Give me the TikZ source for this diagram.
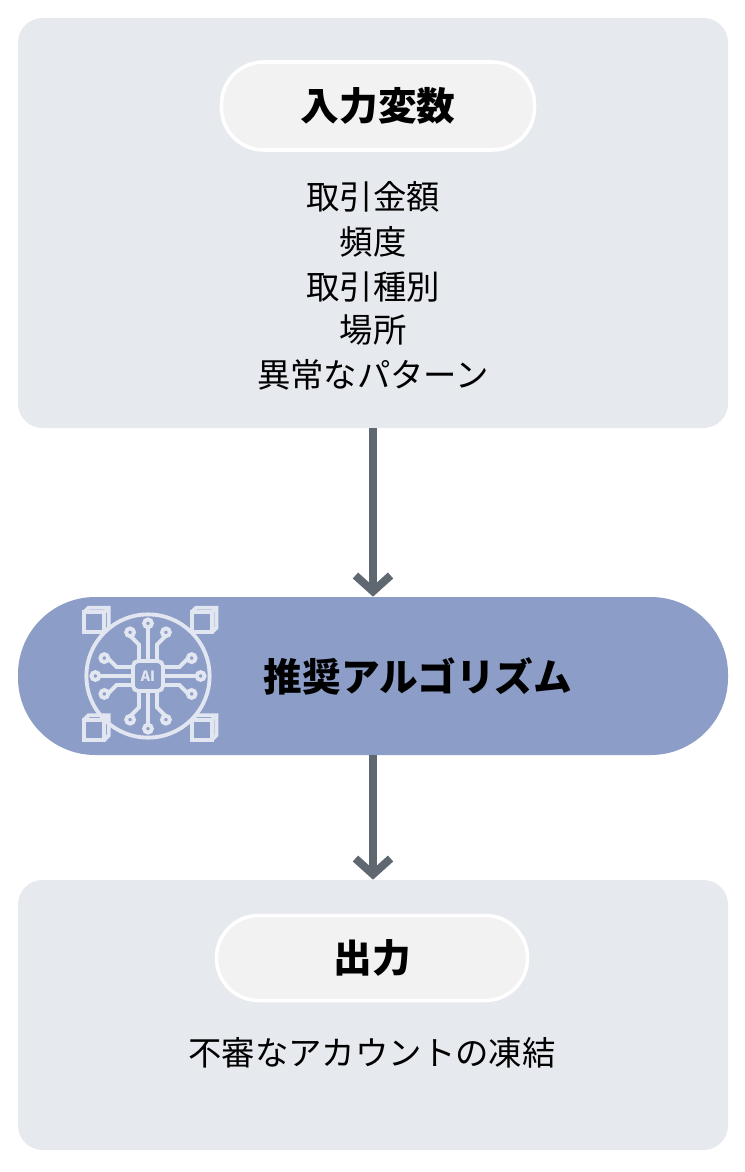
\documentclass[tikz,border=0pt]{standalone}
\usepackage{fontspec}
\setmainfont{Noto Sans CJK JP}
\usetikzlibrary{arrows.meta, positioning}
\definecolor{panelgray}{RGB}{230, 233, 238}
\definecolor{pillwhite}{RGB}{242, 242, 242}
\definecolor{algoblue}{RGB}{140, 158, 200}
\definecolor{arrowgray}{RGB}{95, 103, 112}
\definecolor{iconwhite}{RGB}{225, 230, 240}
\tikzset{
  panel/.style={fill=panelgray, draw=none, rounded corners=14pt},
  title/.style={draw=white, line width=2pt, fill=pillwhite, rounded corners=24pt, font=\fontsize{22}{26}\selectfont\bfseries, inner sep=0pt},
  item/.style={font=\fontsize{19}{22}\selectfont, inner sep=0pt},
  flow/.style={draw=arrowgray, line width=4.5pt, -{Straight Barb[length=9pt, width=20pt, line width=4.5pt]}},
  wire/.style={draw=iconwhite, line width=2.2pt},
  pin/.style={draw=iconwhite, line width=2.2pt, fill=algoblue}
}
\begin{document}
\begin{tikzpicture}[x=0.02cm, y=-0.02cm]
  \useasboundingbox[fill=white] (0,0) rectangle (744,1172);

  % input panel
  \node[panel, minimum width=710*0.02cm, minimum height=410*0.02cm] (inbox) at (373,223) {};
  \node[title, minimum width=313*0.02cm, minimum height=88*0.02cm] (intitle) at (378,106) {入力変数};
  \node[item] (v1) at (373,197) {取引金額};
  \node[item] (v2) at (373,242) {頻度};
  \node[item] (v3) at (373,287) {取引種別};
  \node[item] (v4) at (373,330) {場所};
  \node[item] (v5) at (373,375) {異常なパターン};

  % algorithm
  \node[fill=algoblue, rounded corners=44pt, minimum width=710*0.02cm, minimum height=158*0.02cm] (algo) at (373,676) {};
  \node[font=\fontsize{22}{26}\selectfont\bfseries, inner sep=0pt] (algotext) at (418,676) {推奨アルゴリズム};

  % icon
  \begin{scope}[shift={(148,676)}, scale=1.12]
    \draw[wire] (0,0) circle (55);
    \foreach \sx/\sy in {-1/-1, 1/-1, -1/1, 1/1}{
      \draw[pin] (\sx*48-9,\sy*48-9) rectangle (\sx*48+9,\sy*48+9);
      \draw[wire] (\sx*48-9,\sy*48-9) -- (\sx*48-5,\sy*48-13) -- (\sx*48+13,\sy*48-13) -- (\sx*48+13,\sy*48+5) -- (\sx*48+9,\sy*48+9);
      \draw[wire] (\sx*48+9,\sy*48-9) -- (\sx*48+13,\sy*48-13);
    }
    \foreach \a in {-8,8}{
      \draw[wire] (\a,-14) -- (\a,-28) -- (\a*2,-36);
      \draw[pin] (\a*2,-39) circle (3.5);
      \draw[wire] (\a,14) -- (\a,28) -- (\a*2,36);
      \draw[pin] (\a*2,39) circle (3.5);
      \draw[wire] (-14,\a) -- (-28,\a) -- (-36,\a*2);
      \draw[pin] (-39,\a*2) circle (3.5);
      \draw[wire] (14,\a) -- (28,\a) -- (36,\a*2);
      \draw[pin] (39,\a*2) circle (3.5);
    }
    \draw[wire] (0,-14) -- (0,-44); \draw[pin] (0,-47) circle (3.5);
    \draw[wire] (0,14) -- (0,44); \draw[pin] (0,47) circle (3.5);
    \draw[wire] (-14,0) -- (-44,0); \draw[pin] (-47,0) circle (3.5);
    \draw[wire] (14,0) -- (44,0); \draw[pin] (47,0) circle (3.5);
    \node[pin, rounded corners=3pt, minimum size=30*0.02cm, inner sep=0pt, text=iconwhite, font=\footnotesize\bfseries] (chip) at (0,0) {AI};
  \end{scope}

  % output panel
  \node[panel, minimum width=710*0.02cm, minimum height=270*0.02cm] (outbox) at (373,1015) {};
  \node[title, minimum width=311*0.02cm, minimum height=85*0.02cm] (outtitle) at (372,958) {出力};
  \node[item] (o1) at (372,1053) {不審なアカウントの凍結};

  % arrows
  \draw[flow] (inbox.south) -- (algo.north);
  \draw[flow] (algo.south) -- (outbox.north);
\end{tikzpicture}
\end{document}
